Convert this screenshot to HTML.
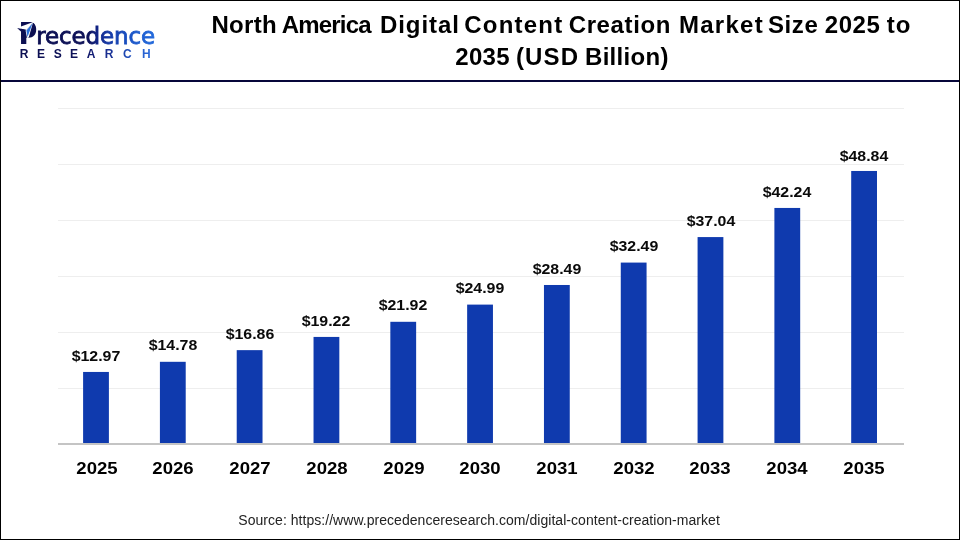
<!DOCTYPE html>
<html><head><meta charset="utf-8"><title>North America Digital Content Creation Market Size 2025 to 2035</title>
<style>
html,body{margin:0;padding:0;background:#fff;}
body{width:960px;height:540px;position:relative;overflow:hidden;font-family:"Liberation Sans",sans-serif;}
#frame{position:absolute;left:0;top:0;width:958px;height:538px;border:1px solid #000;}
#hr{position:absolute;left:1px;top:80px;width:958px;height:2px;background:#07073a;}
#title{position:absolute;left:0.4px;top:0;font-weight:bold;font-size:24px;line-height:32px;color:#000;white-space:nowrap;}
.tw{position:absolute;}
.grid{position:absolute;left:57.6px;width:846px;height:1px;background:#eeeeee;}
#axis{position:absolute;left:57.6px;width:846px;top:443px;height:2px;background:#c4c4c4;}
#bars{position:absolute;left:0;top:0;}
.val{position:absolute;width:80px;text-align:center;font-weight:bold;font-size:15.2px;line-height:16px;transform:scaleX(1.047);color:#0a0a0a;}
.yr{position:absolute;top:457.6px;width:80px;text-align:center;font-weight:bold;font-size:17.2px;line-height:20px;transform:scaleX(1.08);color:#000;}
#src{position:absolute;left:238.3px;top:512px;white-space:nowrap;font-size:14px;line-height:16px;letter-spacing:0.04px;color:#222;}
#logo{position:absolute;left:0;top:0;width:170px;height:70px;overflow:visible;}
</style></head><body>
<div id="frame"></div>
<svg id="logo" viewBox="0 0 170 70">
<defs>
<linearGradient id="g1" gradientUnits="userSpaceOnUse" x1="36" y1="0" x2="154" y2="0"><stop offset="0" stop-color="#0c0f52"/><stop offset="0.44" stop-color="#0d1158"/><stop offset="0.53" stop-color="#12268a"/><stop offset="0.61" stop-color="#1538a4"/><stop offset="0.72" stop-color="#1848b8"/><stop offset="0.83" stop-color="#1c58ca"/><stop offset="1" stop-color="#236adc"/></linearGradient>
<linearGradient id="g2" gradientUnits="userSpaceOnUse" x1="20" y1="0" x2="151" y2="0"><stop offset="0" stop-color="#0c0f52"/><stop offset="0.46" stop-color="#0d1158"/><stop offset="0.57" stop-color="#15207a"/><stop offset="0.7" stop-color="#1a3398"/><stop offset="0.84" stop-color="#2050bc"/><stop offset="1" stop-color="#2d6cdc"/></linearGradient>
</defs>
<text x="19.6" y="44" font-family="'Liberation Sans',sans-serif" font-weight="bold" font-size="30.8" fill="#0c0f52" transform="translate(19.6 0) scale(0.82 1) translate(-19.6 0)">P</text>
<text x="36.2" y="44.2" font-family="'DejaVu Sans','Liberation Sans',sans-serif" font-size="23" letter-spacing="-0.12" fill="url(#g1)" stroke="url(#g1)" stroke-width="0.8">recedence</text>
<text text-anchor="middle" x="24.15 41 57.65 73.9 91 109 127.3 146.25" y="57.75" font-family="'Liberation Sans',sans-serif" font-weight="bold" font-size="12" fill="url(#g2)">RESEARCH</text>
<path d="M21.2,22 H30 C34.2,22 36.2,25.6 36.2,29.8 C36.2,34.6 33,37.8 28.6,37.8 H21.2 Z" fill="#0c0f52"/><rect x="21.2" y="30" width="5.1" height="14" fill="#0c0f52"/>
<polygon points="33.4,21.9 21,26.4 21,28.7 26.2,30.3" fill="#fff"/>
<polygon points="17.1,28.1 26.3,29.7 26.3,33 21.2,31.7" fill="#0c0f52"/>
<polygon points="33.1,22.2 25.6,30.4 27.0,37.9 28.7,37.5" fill="#fff"/>
<polygon points="32.7,23 26.4,30.6 27.5,37" fill="#2a6fd8"/>
</svg>

<div id="title"><span class="tw" style="left:211.0px;top:9px;letter-spacing:0.32px">North</span> <span class="tw" style="left:281.3px;top:9px;letter-spacing:-0.80px">America</span> <span class="tw" style="left:379.5px;top:9px;letter-spacing:0.96px">Digital</span> <span class="tw" style="left:463.9px;top:9px;letter-spacing:1.20px">Content</span> <span class="tw" style="left:568.3px;top:9px;letter-spacing:0.63px">Creation</span> <span class="tw" style="left:678.5px;top:9px;letter-spacing:1.30px">Market</span> <span class="tw" style="left:767.5px;top:9px;letter-spacing:0.61px">Size</span> <span class="tw" style="left:824.3px;top:9px;letter-spacing:0.61px">2025</span> <span class="tw" style="left:886.3px;top:9px;letter-spacing:1.04px">to</span> <span class="tw" style="left:454.8px;top:41px;letter-spacing:0.35px">2035</span> <span class="tw" style="left:515.5px;top:41px;letter-spacing:1.20px">(USD</span> <span class="tw" style="left:584.6px;top:41px;letter-spacing:0.31px">Billion)</span> </div>
<div id="hr"></div>
<div class="grid" style="top:388.1px"></div><div class="grid" style="top:332.0px"></div><div class="grid" style="top:276.0px"></div><div class="grid" style="top:219.9px"></div><div class="grid" style="top:163.9px"></div><div class="grid" style="top:107.9px"></div>
<svg id="bars" width="960" height="540" viewBox="0 0 960 540" fill="#0f3aae"><rect x="83.10" y="371.95" width="25.8" height="72.05"/><rect x="159.91" y="361.81" width="25.8" height="82.19"/><rect x="236.72" y="350.15" width="25.8" height="93.85"/><rect x="313.53" y="336.93" width="25.8" height="107.07"/><rect x="390.34" y="321.80" width="25.8" height="122.20"/><rect x="467.15" y="304.60" width="25.8" height="139.40"/><rect x="543.96" y="284.99" width="25.8" height="159.01"/><rect x="620.77" y="262.58" width="25.8" height="181.42"/><rect x="697.58" y="237.08" width="25.8" height="206.92"/><rect x="774.39" y="207.95" width="25.8" height="236.05"/><rect x="851.20" y="170.97" width="25.8" height="273.03"/></svg>
<div id="axis"></div>
<div class="val" style="left:56.0px;top:347.5px">$12.97</div><div class="val" style="left:132.8px;top:337.4px">$14.78</div><div class="val" style="left:209.6px;top:325.8px">$16.86</div><div class="val" style="left:286.4px;top:312.5px">$19.22</div><div class="val" style="left:363.2px;top:297.4px">$21.92</div><div class="val" style="left:440.1px;top:280.2px">$24.99</div><div class="val" style="left:516.9px;top:260.6px">$28.49</div><div class="val" style="left:593.7px;top:238.2px">$32.49</div><div class="val" style="left:670.5px;top:212.7px">$37.04</div><div class="val" style="left:747.3px;top:183.5px">$42.24</div><div class="val" style="left:824.1px;top:147.7px">$48.84</div>
<div class="yr" style="left:56.6px">2025</div><div class="yr" style="left:133.3px">2026</div><div class="yr" style="left:210.0px">2027</div><div class="yr" style="left:286.8px">2028</div><div class="yr" style="left:363.5px">2029</div><div class="yr" style="left:440.2px">2030</div><div class="yr" style="left:516.9px">2031</div><div class="yr" style="left:593.6px">2032</div><div class="yr" style="left:670.4px">2033</div><div class="yr" style="left:747.1px">2034</div><div class="yr" style="left:823.8px">2035</div>
<div id="src">Source: https://www.precedenceresearch.com/digital-content-creation-market</div>
</body></html>
